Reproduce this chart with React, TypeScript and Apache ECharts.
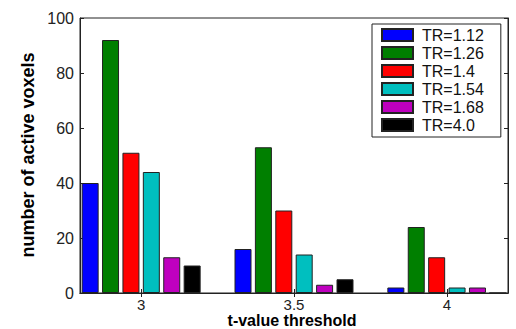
import React, { useEffect, useRef } from "react";
import * as echarts from "echarts";

const thresholds = [3, 3.5, 4];
const seriesNames = ["TR=1.12", "TR=1.26", "TR=1.4", "TR=1.54", "TR=1.68", "TR=4.0"];
const tr112 = [40, 16, 2];
const tr126 = [92, 53, 24];
const tr14 = [51, 30, 13];
const tr154 = [44, 14, 2];
const tr168 = [13, 3, 2];
const tr40 = [10, 5, 0];
const yTicks = [0, 20, 40, 60, 80, 100];
const colors = ["#0000FF", "#007F00", "#FF0000", "#00BFBF", "#BF00BF", "#000000"];

export default function App() {
  const ref = useRef<HTMLDivElement>(null);
  useEffect(() => {
    if (!ref.current) return;
    const chart = echarts.init(ref.current, null, { renderer: "svg" });
    const allValues = [tr112, tr126, tr14, tr154, tr168, tr40];
    const font = "Liberation Sans";
    const axisColor = "#222";
    chart.setOption({
      animation: false,
      backgroundColor: "#fff",
      grid: {
        left: 80, top: 18, right: 8, bottom: 36,
        show: true, borderColor: axisColor, borderWidth: 1,
        backgroundColor: "transparent",
      },
      legend: {
        orient: "vertical",
        left: 372, top: 24,
        padding: [3, 17, 4, 9],
        itemWidth: 31, itemHeight: 12, itemGap: 2,
        backgroundColor: "#fff",
        borderColor: axisColor, borderWidth: 1, borderRadius: 0,
        icon: "rect",
        data: seriesNames,
        textStyle: { fontFamily: font, fontSize: 16, color: "#111", lineHeight: 16, padding: [0, 0, 0, 4] },
      },
      xAxis: [
        {
          type: "value", min: 2.8, max: 4.2,
          axisLine: { show: true, onZero: false, lineStyle: { color: axisColor } },
          axisTick: { show: true, inside: true, length: 4, customValues: thresholds, lineStyle: { color: axisColor } },
          axisLabel: { customValues: thresholds, margin: 4, fontFamily: font, fontSize: 15, lineHeight: 14, color: "#222" },
          splitLine: { show: false },
        },
        {
          type: "value", min: 2.8, max: 4.2, position: "top",
          axisLine: { show: true, lineStyle: { color: axisColor } },
          axisTick: { show: true, inside: true, length: 4, customValues: thresholds, lineStyle: { color: axisColor } },
          axisLabel: { show: false },
          splitLine: { show: false },
        },
      ],
      yAxis: [
        {
          type: "value", min: 0, max: 100, interval: 20,
          axisLine: { show: true, lineStyle: { color: axisColor } },
          axisTick: { show: true, inside: true, length: 4, lineStyle: { color: axisColor } },
          axisLabel: { margin: 6, fontFamily: font, fontSize: 16, color: "#222", customValues: yTicks },
          splitLine: { show: false },
        },
        {
          type: "value", min: 0, max: 100, interval: 20, position: "right",
          axisLine: { show: true, lineStyle: { color: axisColor } },
          axisTick: { show: true, inside: true, length: 4, lineStyle: { color: axisColor } },
          axisLabel: { show: false },
          splitLine: { show: false },
        },
      ],
      graphic: [
        {
          type: "text", x: 28, y: 155, rotation: Math.PI / 2,
          style: {
            text: "number of active voxels", align: "center", verticalAlign: "middle",
            fontFamily: font, fontWeight: "bold", fontSize: 18, fill: "#000",
          },
        },
        {
          type: "text", x: 292, y: 313,
          style: {
            text: "t-value threshold", align: "center", verticalAlign: "top",
            fontFamily: font, fontWeight: "bold", fontSize: 16, lineHeight: 15, fill: "#000",
          },
        },
      ],
      series: seriesNames.map((name, i) => ({
        name,
        type: "bar",
        xAxisIndex: 0,
        yAxisIndex: 0,
        barWidth: 17,
        barGap: "20%",
        itemStyle: { color: colors[i], borderColor: "#222", borderWidth: 1 },
        data: thresholds.map((t, j) => [t, allValues[i][j]]),
      })),
    });
    return () => chart.dispose();
  }, []);
  return <div ref={ref} style={{ width: 516, height: 329, position: "absolute", left: 0, top: 0 }} />;
}
